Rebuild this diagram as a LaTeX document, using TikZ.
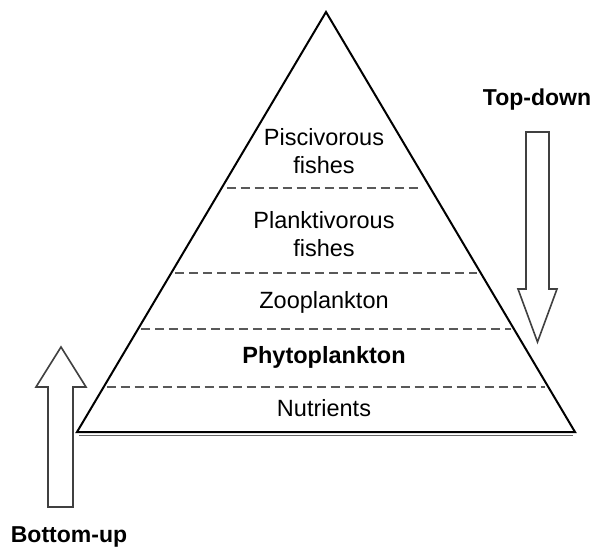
\documentclass[tikz,border=0pt]{standalone}
\usepackage{fontspec}
\setmainfont{Liberation Sans}
\usetikzlibrary{calc}

\begin{document}
\begin{tikzpicture}[x=1pt, y=-1pt,
    level/.style={font=\fontsize{23.5}{28}\selectfont, align=center},
    levelbold/.style={font=\fontsize{23.5}{28}\selectfont\bfseries, align=center},
    divider/.style={draw=black!65, line width=2pt, dash pattern=on 9pt off 5pt},
    bigarrow/.style={draw=black!75, fill=white, line width=1.6pt, line join=miter},
    side/.style={font=\fontsize{23}{27}\selectfont\bfseries}
]
    \useasboundingbox (0,0) rectangle (595,549);

    % ================= PYRAMID =================
    \coordinate (Apex) at (326,12);
    \coordinate (BaseL) at (77,432);
    \coordinate (BaseR) at (575,432);

    \draw[line width=2pt, line join=miter] (BaseL) -- (Apex) -- (BaseR) -- cycle;
    \draw[line width=1pt, draw=black!60] ($(BaseL)+(2,3)$) -- ($(BaseR)+(-2,3)$);

    % dashed borders between the levels
    \draw[divider] ($(Apex)!0.419!(BaseL)+(5,0)$) -- ($(Apex)!0.419!(BaseR)-(12,0)$);
    \draw[divider] ($(Apex)!0.621!(BaseL)+(4,0)$) -- ($(Apex)!0.621!(BaseR)-(4,0)$);
    \draw[divider] ($(Apex)!0.755!(BaseL)+(3,0)$) -- ($(Apex)!0.755!(BaseR)-(3,0)$);
    \draw[divider] ($(Apex)!0.893!(BaseL)+(3,0)$) -- ($(Apex)!0.893!(BaseR)-(3,0)$);

    % ================= LEVEL LABELS =================
    \node[level] (Piscivorous) at (324,151) {Piscivorous\\fishes};
    \node[level] (Planktivorous) at (324,234) {Planktivorous\\fishes};
    \node[level] (Zooplankton) at (324,302) {Zooplankton};
    \node[levelbold] (Phytoplankton) at (324,357) {Phytoplankton};
    \node[level] (Nutrients) at (324,408) {Nutrients};

    % ================= CONTROL ARROWS =================
    % top-down (downward block arrow)
    \draw[bigarrow] (526,132) -- (549,132) -- (549,289) -- (557,289)
        -- (537.5,342) -- (518,289) -- (526,289) -- cycle;
    \node[side] (TopDown) at (537,100) {Top-down};

    % bottom-up (upward block arrow)
    \draw[bigarrow] (48,507) -- (73,507) -- (73,387) -- (86,387)
        -- (61,347) -- (36,387) -- (48,387) -- cycle;
    \node[side] (BottomUp) at (69,537) {Bottom-up};

\end{tikzpicture}
\end{document}
